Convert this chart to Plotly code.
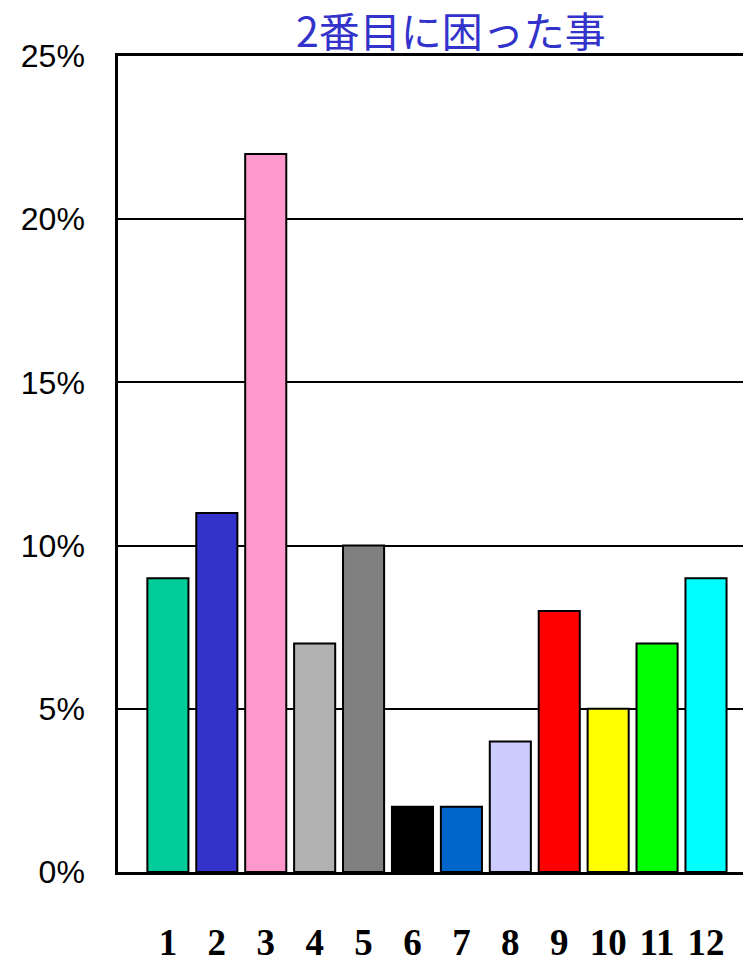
import plotly.graph_objects as go

categories = [1, 2, 3, 4, 5, 6, 7, 8, 9, 10, 11, 12]
tick_labels = ["1", "2", "3", "4", "5", "6", "7", "8", "9", "10", "11", "12"]
values = [9, 11, 22, 7, 10, 2, 2, 4, 8, 5, 7, 9]
colors = ["#00CC99", "#3333CC", "#FF99CC", "#B2B2B2", "#808080", "#000000",
          "#0066CC", "#CCCCFF", "#FF0000", "#FFFF00", "#00FF00", "#00FFFF"]
y_ticks = [0, 5, 10, 15, 20, 25]
y_tick_labels = ["0%", "5%", "10%", "15%", "20%", "25%"]

# page body has an 8px default margin; size the figure to fill the rest
W, H = 743, 954

fig = go.Figure(go.Bar(
    x=categories, y=values, width=0.84,
    marker=dict(color=colors, line=dict(color="black", width=2)),
))

fig.update_layout(
    width=W, height=H,
    margin=dict(l=110, r=0, t=48, b=90, autoexpand=False),
    paper_bgcolor="white", plot_bgcolor="white",
    showlegend=False,
    title=dict(text="2番目に困った事", x=443/W, xanchor="center",
               y=1 - 25/H, yanchor="middle", yref="container",
               font=dict(family="Noto Sans CJK JP", size=41, color="#3333CC")),
)
fig.update_xaxes(
    range=[-0.02, 12.92], tickvals=categories, ticktext=tick_labels,
    showgrid=False, zeroline=False, automargin=False,
    showline=True, linecolor="black", linewidth=2.5, mirror=True,
    ticks="", ticklabelstandoff=36,
    tickfont=dict(family="Liberation Serif", size=37, color="black", weight="bold"),
)
fig.update_yaxes(
    range=[0, 25], tickvals=y_ticks, ticktext=y_tick_labels,
    showgrid=True, gridcolor="black", gridwidth=1.5, zeroline=False, automargin=False,
    showline=True, linecolor="black", linewidth=2.5,
    ticks="", ticklabelstandoff=24,
    tickfont=dict(family="Liberation Sans Narrow, Liberation Sans", size=32, color="black"),
)

fig.write_html("out.html")
